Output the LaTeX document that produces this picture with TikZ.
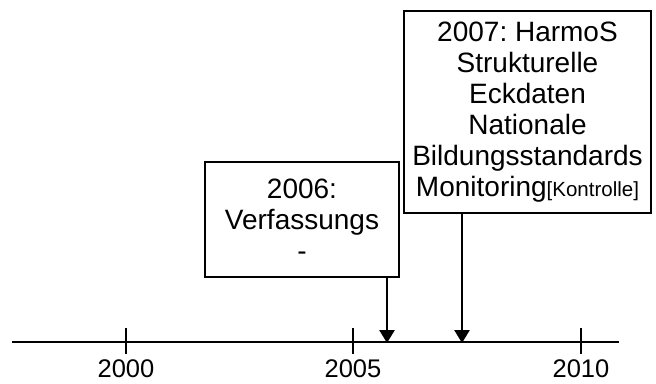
\documentclass[tikz,border=0pt]{standalone}
\usepackage{fontspec}
\setmainfont{Liberation Sans}
\usetikzlibrary{arrows.meta}
\frenchspacing
\begin{document}
\begin{tikzpicture}[x=1pt,y=-1pt,
  evbox/.style={draw=black, line width=2.6pt, fill=white, align=center, inner sep=0pt,
    font=\fontsize{28}{31}\selectfont\frenchspacing},
  axisline/.style={line width=2.6pt},
  tickline/.style={line width=2.4pt},
  yearlbl/.style={anchor=base, font=\fontsize{25.5}{30}\selectfont},
  evarrow/.style={line width=2.6pt, -{Triangle[length=13pt,width=15pt]}}]
\useasboundingbox (0,0) rectangle (656,383);
% axis
\coordinate (L) at (12,342);
\coordinate (R) at (619,342);
\draw[axisline] (L) -- (R);
% ticks
\coordinate (t0a) at (126,328); \coordinate (t0b) at (126,354);
\coordinate (t1a) at (353,328); \coordinate (t1b) at (353,354);
\coordinate (t2a) at (581,328); \coordinate (t2b) at (581,354);
\draw[tickline] (t0a) -- (t0b);
\draw[tickline] (t1a) -- (t1b);
\draw[tickline] (t2a) -- (t2b);
\node[yearlbl] (y2000) at (126,377) {2000};
\node[yearlbl] (y2005) at (353,377) {2005};
\node[yearlbl] (y2010) at (581,377) {2010};
% boxes
\node[evbox, minimum width=194pt, minimum height=115pt] (b1) at (302,219.5)
  {2006:\\Verfassungs\\-};
\node[evbox, minimum width=247pt, minimum height=202pt] (b2) at (527.5,112)
  {2007: HarmoS\\Strukturelle\\Eckdaten\\Nationale\\Bildungsstandards\\Monitoring{\fontsize{20.5}{24}\selectfont[Kontrolle]}};
% arrows
\coordinate (a1) at (387,343);
\coordinate (a2) at (462,343);
\draw[evarrow] (b1.south -| a1) -- (a1);
\draw[evarrow] (b2.south -| a2) -- (a2);
\end{tikzpicture}
\end{document}
